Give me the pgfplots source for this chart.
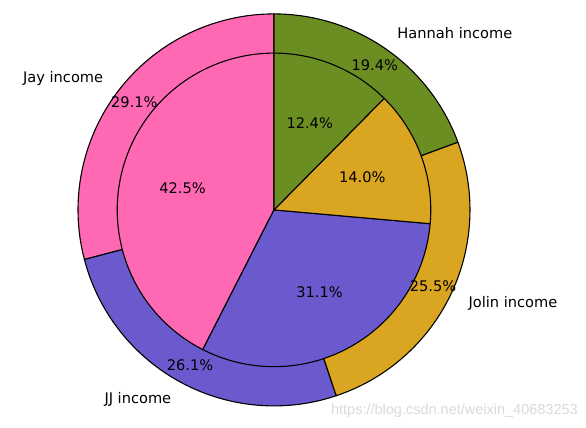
\documentclass[border=0pt]{standalone}
\usepackage{pgfplots}
\pgfplotsset{compat=1.18}
\usepackage{fontspec}
\setmainfont{DejaVu Sans}
\newfontfamily\wmfont{Liberation Sans}
\definecolor{jay}{HTML}{FF69B4}
\definecolor{jj}{HTML}{6A5ACD}
\definecolor{jolin}{HTML}{DAA520}
\definecolor{hannah}{HTML}{6B8E23}

% outer ring percentages
\def\oA{29.1}\def\oB{26.1}\def\oC{25.5}\def\oD{19.4}
% inner pie percentages
\def\iA{42.5}\def\iB{31.1}\def\iC{14.0}\def\iD{12.4}

\pgfmathsetmacro\oS{\oA+\oB+\oC+\oD}
\pgfmathsetmacro\oa{90}
\pgfmathsetmacro\ob{\oa+\oA/\oS*360}
\pgfmathsetmacro\oc{\ob+\oB/\oS*360}
\pgfmathsetmacro\od{\oc+\oC/\oS*360}
\pgfmathsetmacro\oe{450}
\pgfmathsetmacro\iS{\iA+\iB+\iC+\iD}
\pgfmathsetmacro\ia{90}
\pgfmathsetmacro\ib{\ia+\iA/\iS*360}
\pgfmathsetmacro\ic{\ib+\iB/\iS*360}
\pgfmathsetmacro\id{\ic+\iC/\iS*360}
\pgfmathsetmacro\ie{450}

\newcommand{\fsz}{\fontsize{14.6bp}{17bp}\selectfont}
\newcommand{\slice}[4]{% start, end, radius, colour
  \addplot[draw=black, line width=1.1bp, line join=round, fill=#4, domain=#1:#2, samples=90]
    ({#3*cos(x)},{#3*sin(x)}) -- (0,0) -- cycle;
}
\newcommand{\pct}[4]{% start, end, dist, text
  \pgfmathsetmacro\mm{(#1+#2)/2}%
  \pgfmathsetmacro\px{#3*cos(\mm)}%
  \pgfmathsetmacro\py{#3*sin(\mm)}%
  \edef\tmp{\noexpand\node[font=\noexpand\fsz, inner sep=0pt] at (axis cs:\px,\py) {#4};}\tmp
}
\newcommand{\lab}[3]{% start, end, text
  \pgfmathsetmacro\mm{(#1+#2)/2}%
  \pgfmathsetmacro\px{1.1*cos(\mm)}%
  \pgfmathsetmacro\py{1.1*sin(\mm)}%
  \pgfmathparse{\px<0?1:0}%
  \ifnum\pgfmathresult=1 \def\anc{east}\else\def\anc{west}\fi
  \edef\tmp{\noexpand\node[font=\noexpand\fsz, inner sep=0pt, anchor=\anc] at (axis cs:\px,\py) {#3};}\tmp
}

\begin{document}
\begin{tikzpicture}
\begin{axis}[
  x=196bp, y=196bp,
  xmin=-1.398, xmax=1.592, ymin=-1.112, ymax=1.071,
  hide axis, clip=false, enlargelimits=false,
]
\path (rel axis cs:0,0) rectangle (rel axis cs:1,1);
% outer ring
\slice{\oa}{\ob}{1}{jay}
\slice{\ob}{\oc}{1}{jj}
\slice{\oc}{\od}{1}{jolin}
\slice{\od}{\oe}{1}{hannah}
% inner pie
\slice{\ia}{\ib}{0.8}{jay}
\slice{\ib}{\ic}{0.8}{jj}
\slice{\ic}{\id}{0.8}{jolin}
\slice{\id}{\ie}{0.8}{hannah}
% percentages
\pct{\oa}{\ob}{0.9}{29.1\%}
\pct{\ob}{\oc}{0.9}{26.1\%}
\pct{\oc}{\od}{0.9}{25.5\%}
\pct{\od}{\oe}{0.9}{19.4\%}
\pct{\ia}{\ib}{0.48}{42.5\%}
\pct{\ib}{\ic}{0.48}{31.1\%}
\pct{\ic}{\id}{0.48}{14.0\%}
\pct{\id}{\ie}{0.48}{12.4\%}
% labels
\lab{\oa}{\ob}{Jay income}
\lab{\ob}{\oc}{JJ income}
\lab{\oc}{\od}{Jolin income}
\lab{\od}{\oe}{Hannah income}
\node[anchor=east, inner sep=0pt, text=gray!30, font=\wmfont\fontsize{14.5bp}{16bp}\selectfont] at (axis cs:1.551,-1.023) {https://blog.csdn.net/weixin\_40683253};
\end{axis}
\end{tikzpicture}
\end{document}
